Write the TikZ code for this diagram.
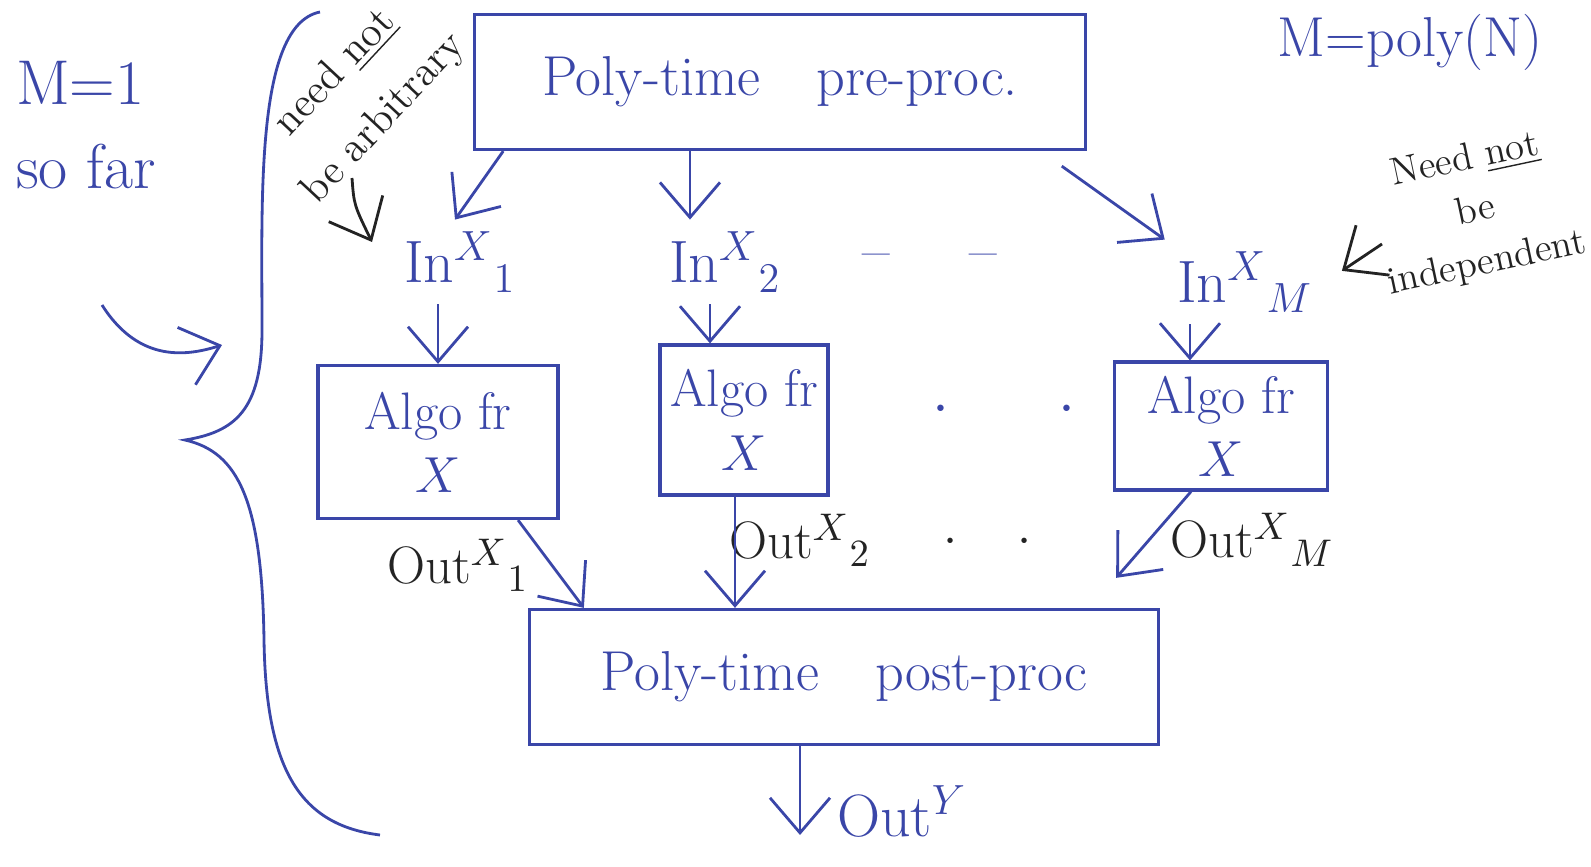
\documentclass[tikz,border=0pt]{standalone}
\usetikzlibrary{arrows.meta,positioning}

\definecolor{ink}{RGB}{58,70,168}
\definecolor{pen}{RGB}{35,35,35}

\tikzset{
    stagebox/.style={draw=ink, line width=0.9pt, text=ink, inner sep=0pt,
        font=\fontsize{16}{19}\selectfont},
    algobox/.style={stagebox, align=center, font=\fontsize{15}{18}\selectfont},
    inlabel/.style={text=ink, font=\fontsize{17}{20}\selectfont},
    outlabel/.style={text=pen, font=\fontsize{15}{18}\selectfont},
    remark/.style={text=pen, align=center, font=\fontsize{12}{19}\selectfont},
    arr/.style={draw=ink, line width=0.8pt,
        -{Straight Barb[length=3.5mm,width=6mm]}},
    remarkarr/.style={arr, draw=pen},
}

\begin{document}
\begin{tikzpicture}[x=0.01cm,y=-0.01cm]
    \useasboundingbox (0,0) rectangle (1591,867);

    % pre- and post-processing
    \node[stagebox, minimum width=6.1cm, minimum height=1.35cm] (prebox)
        at (780,82) {Poly-time\quad pre-proc.};
    \node[stagebox, minimum width=6.28cm, minimum height=1.35cm] (postbox)
        at (844,677) {Poly-time\quad post-proc};

    % one algorithm per instance
    \node[algobox, minimum width=2.4cm, minimum height=1.53cm] (algo1)
        at (438,442) {Algo fr\\$X$};
    \node[algobox, minimum width=1.68cm, minimum height=1.5cm] (algo2)
        at (744,420) {Algo fr\\$X$};
    \node[algobox, minimum width=2.13cm, minimum height=1.28cm] (algoM)
        at (1221,426) {Algo fr\\$X$};

    \node[inlabel] (in1) at (460,262) {In$^{X}{}_{1}$};
    \node[inlabel] (in2) at (725,262) {In$^{X}{}_{2}$};
    \node[inlabel] (inM) at (1245,282) {In$^{X}{}_{M}$};
    \node[inlabel] (indots) at (930,262) {--\hspace{0.8cm}--};
    \node[inlabel] (algodots) at (1004,410) {$\cdot$\hspace{1.1cm}$\cdot$};

    \node[outlabel] (out1) at (458,565) {Out$^{X}{}_{1}$};
    \node[outlabel] (out2) at (800,540) {Out$^{X}{}_{2}$};
    \node[outlabel] (outM) at (1252,540) {Out$^{X}{}_{M}$};
    \node[outlabel] (outdots) at (988,542) {$\cdot$\hspace{0.6cm}$\cdot$};
    \node[inlabel] (outY) at (902,812) {Out$^{Y}$};
    \coordinate (yend) at (800,835);

    % notes round the picture
    \node[inlabel, align=left, font=\fontsize{18}{24}\selectfont] (sofar)
        at (86,125) {M=1\\so far};
    \node[inlabel, font=\fontsize{16}{19}\selectfont] (mpoly)
        at (1410,42) {M=poly(N)};
    \node[remark, rotate=47] (arbit) at (360,96) {need \underline{not}\\be arbitrary};
    \coordinate (arbfoot) at (352,178);
    \node[remark, rotate=12, font=\fontsize{11}{15}\selectfont] (indep)
        at (1476,212) {Need \underline{not}\\be\\independent};
    \coordinate (indfoot) at (1382,244);
    \coordinate (bendfoot) at (102,305);
    \coordinate (bendtip) at (222,345);

    % brace over the whole scheme
    \draw[ink, line width=0.8pt] (320,12) .. controls (255,25) and (262,200) .. (262,330)
        .. controls (262,410) and (235,432) .. (185,440)
        .. controls (238,452) and (262,500) .. (264,640)
        .. controls (266,770) and (300,825) .. (380,835);
    \draw[arr] (bendfoot) .. controls (140,365) and (190,355) .. (bendtip);

    % inputs
    \draw[arr] (prebox.south west) ++(30,0) -- ([xshift=-0.05cm]in1.north);
    \draw[arr] ([xshift=-0.35cm]prebox.south -| in2.north) -- ([xshift=-0.35cm]in2.north);
    \draw[arr] (prebox.south east) ++(-25,15) -- (inM.north west);
    \draw[arr] (in1.south -| algo1.north) -- (algo1.north);
    \draw[arr] ([xshift=-0.15cm]in2.south) -- ([xshift=-0.15cm]in2.south |- algo2.north);
    \draw[arr] ([xshift=-0.55cm]inM.south) -- ([xshift=-0.55cm]inM.south |- algoM.north);

    % outputs
    \draw[arr] ([xshift=0.8cm]algo1.south) -- ([xshift=-2.6cm]postbox.north);
    \draw[arr] ([xshift=-0.09cm]algo2.south) -- ([xshift=-0.09cm]algo2.south |- postbox.north);
    \draw[arr] ([xshift=-0.3cm]algoM.south) -- ([xshift=2.72cm,yshift=0.3cm]postbox.north);
    \draw[arr] (postbox.south -| yend) -- (yend);

    \draw[remarkarr] (arbfoot) .. controls (354,205) .. (372,242);
    \draw[remarkarr, shorten >=2mm] (indfoot) -- (inM.east);
\end{tikzpicture}
\end{document}
